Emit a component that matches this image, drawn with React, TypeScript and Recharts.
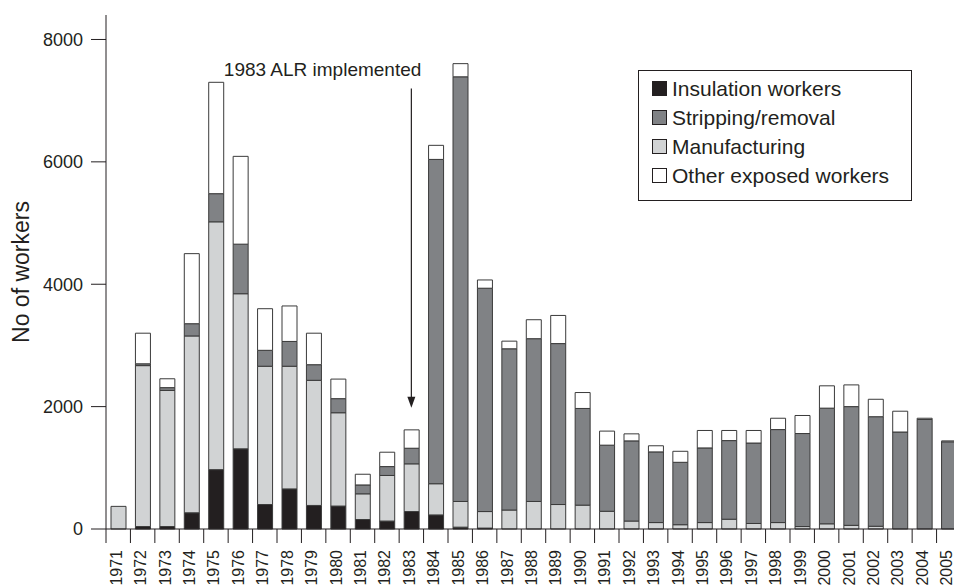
import React from 'react';
import { BarChart, Bar, XAxis, YAxis, Legend, Label, ReferenceLine } from 'recharts';

const years = [
  '1971', '1972', '1973', '1974', '1975', '1976', '1977', '1978', '1979', '1980',
  '1981', '1982', '1983', '1984', '1985', '1986', '1987', '1988', '1989', '1990',
  '1991', '1992', '1993', '1994', '1995', '1996', '1997', '1998', '1999', '2000',
  '2001', '2002', '2003', '2004', '2005',
];

const insulation = [
  0, 40, 40, 265, 970, 1310, 400, 655, 385, 375,
  155, 130, 285, 230, 30, 15, 0, 0, 0, 0,
  0, 0, 0, 0, 0, 0, 0, 0, 0, 0,
  0, 0, 0, 0, 0,
];

const manufacturing = [
  370, 2630, 2225, 2890, 4050, 2535, 2260, 2005, 2045, 1525,
  420, 745, 780, 510, 420, 270, 310, 450, 400, 390,
  290, 130, 105, 70, 105, 160, 90, 105, 40, 85,
  60, 45, 0, 0, 0,
];

const stripping = [
  0, 30, 45, 200, 460, 810, 260, 405, 255, 230,
  145, 145, 255, 5300, 6940, 3650, 2635, 2660, 2630, 1580,
  1080, 1310, 1155, 1020, 1220, 1285, 1315, 1520, 1520, 1890,
  1940, 1790, 1585, 1790, 1425,
];

const other = [
  0, 500, 145, 1145, 1820, 1435, 680, 580, 515, 320,
  175, 235, 300, 230, 215, 135, 125, 310, 460, 260,
  230, 115, 100, 180, 285, 165, 205, 185, 295, 365,
  355, 285, 340, 20, 15,
];

const yTicks = [0, 2000, 4000, 6000, 8000];

const data = years.map((year, i) => ({
  year,
  insulation: insulation[i],
  manufacturing: manufacturing[i],
  stripping: stripping[i],
  other: other[i],
}));

const INK = '#231f20';
const FONT = '"Liberation Sans", Arial, Helvetica, sans-serif';

const legendItems = [
  { label: 'Insulation workers', color: INK },
  { label: 'Stripping/removal', color: '#808285' },
  { label: 'Manufacturing', color: '#d1d3d4' },
  { label: 'Other exposed workers', color: '#ffffff' },
];

const CHART_W = 961;
const PLOT_LEFT = 106;
const HALF_BAND = (CHART_W - PLOT_LEFT) / years.length / 2;

function YearTick(props: any) {
  const { x, y, payload } = props;
  const half = payload && payload.offset ? payload.offset : HALF_BAND;
  const tx = x - 2;
  return (
    <g>
      <line x1={x - half} y1={y} x2={x - half} y2={y + 14} stroke={INK} strokeWidth={1} />
      <text
        x={tx}
        y={y + 21}
        transform={`rotate(-90, ${tx}, ${y + 21})`}
        textAnchor="end"
        dominantBaseline="central"
        fontSize={16}
        fontFamily={FONT}
        fill={INK}
      >
        {payload.value}
      </text>
    </g>
  );
}

function ArrowNote(props: any) {
  const { x1, y1, x2, y2 } = props;
  return (
    <g>
      <text x={x1 + 10} y={y1 - 12} textAnchor="end" fontSize={19} fontFamily={FONT} fill={INK}>
        1983 ALR implemented
      </text>
      <line x1={x1} y1={y1} x2={x2} y2={y2 - 8} stroke={INK} strokeWidth={1.2} />
      <polygon points={`${x2 - 4},${y2 - 11} ${x2 + 4},${y2 - 11} ${x2},${y2}`} fill={INK} />
    </g>
  );
}

function LegendBox() {
  return (
    <div
      style={{
        border: `1px solid ${INK}`,
        padding: '3px 0 0 13px',
        boxSizing: 'border-box',
        width: 274,
        height: 131,
        background: '#fff',
        fontFamily: FONT,
        fontSize: 21,
        color: INK,
      }}
    >
      {legendItems.map((item) => (
        <div key={item.label} style={{ display: 'flex', alignItems: 'center', height: 29 }}>
          <span
            style={{
              display: 'inline-block',
              width: 15,
              height: 15,
              boxSizing: 'border-box',
              border: `1px solid ${INK}`,
              background: item.color,
              marginRight: 5,
            }}
          />
          <span>{item.label}</span>
        </div>
      ))}
    </div>
  );
}

export default function App() {
  const barProps = { stackId: 'a', stroke: '#3a3a3a', strokeWidth: 1, barSize: 15, isAnimationActive: false };
  return (
    <div style={{ position: 'absolute', left: 0, top: 0, width: 954, height: 587, overflow: 'hidden', background: '#fff' }}>
      <BarChart width={CHART_W} height={587} data={data} margin={{ top: 15, right: 0, bottom: 0, left: 0 }}>
        <XAxis
          dataKey="year"
          height={58}
          interval={0}
          tickLine={false}
          tickSize={0}
          tickMargin={0}
          axisLine={{ stroke: INK, strokeWidth: 1 }}
          tick={<YearTick />}
        />
        <YAxis
          width={PLOT_LEFT}
          domain={[0, 8400]}
          ticks={yTicks}
          tickSize={15}
          tickMargin={8}
          axisLine={{ stroke: INK, strokeWidth: 1 }}
          tickLine={{ stroke: INK, strokeWidth: 1 }}
          tick={{ fontSize: 18, fontFamily: FONT, fill: INK }}
        >
          <Label
            value="No of workers"
            angle={-90}
            position="center"
            dx={-32}
            style={{ fontSize: 23, fontFamily: FONT, fill: INK }}
          />
        </YAxis>
        <Legend
          layout="vertical"
          align="center"
          verticalAlign="middle"
          wrapperStyle={{ top: 70, left: 638, width: 274, height: 131 }}
          content={() => <LegendBox />}
        />
        <Bar dataKey="insulation" fill={INK} {...barProps} />
        <Bar dataKey="manufacturing" fill="#d1d3d4" {...barProps} />
        <Bar dataKey="stripping" fill="#808285" {...barProps} />
        <Bar dataKey="other" fill="#ffffff" {...barProps} />
        <ReferenceLine
          segment={[
            { x: '1983', y: 7200 },
            { x: '1983', y: 1980 },
          ]}
          shape={<ArrowNote />}
        />
      </BarChart>
    </div>
  );
}
